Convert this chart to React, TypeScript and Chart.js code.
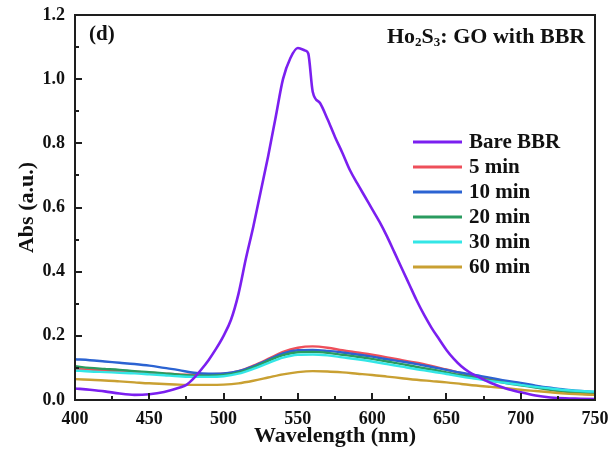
import React, { useEffect, useRef } from "react";
import { Chart, registerables } from "chart.js";

Chart.register(...registerables);

// Wavelength grid (nm) for the GO-treated samples
const wavelengths = [
  400, 410, 420, 430, 440, 450, 460, 470, 480, 490, 500, 510, 520, 530, 540, 550, 560, 570,
  580, 590, 600, 610, 620, 630, 640, 650, 660, 670, 680, 690, 700, 710, 720, 730, 740, 750,
];

const abs5min = [
  0.097, 0.095, 0.092, 0.09, 0.088, 0.085, 0.082, 0.08, 0.079, 0.08, 0.082, 0.09, 0.107, 0.128,
  0.15, 0.163, 0.167, 0.163, 0.155, 0.148, 0.141, 0.133, 0.124, 0.116, 0.106, 0.095, 0.084,
  0.074, 0.066, 0.058, 0.051, 0.043, 0.035, 0.027, 0.02, 0.016,
];
const abs10min = [
  0.127, 0.124, 0.12, 0.116, 0.112, 0.107, 0.1, 0.093, 0.085, 0.082, 0.083, 0.09, 0.105, 0.125,
  0.145, 0.155, 0.156, 0.153, 0.148, 0.142, 0.135, 0.127, 0.12, 0.112, 0.103, 0.094, 0.085,
  0.077, 0.069, 0.06, 0.053, 0.045, 0.038, 0.032, 0.028, 0.025,
];
const abs20min = [
  0.105, 0.1, 0.097, 0.094, 0.09, 0.087, 0.083, 0.079, 0.076, 0.076, 0.078, 0.086, 0.102, 0.122,
  0.14, 0.149, 0.15, 0.147, 0.141, 0.135, 0.128, 0.12, 0.112, 0.103, 0.095, 0.086, 0.077, 0.069,
  0.061, 0.053, 0.046, 0.039, 0.032, 0.026, 0.022, 0.019,
];
const abs30min = [
  0.092, 0.089, 0.087, 0.085, 0.083, 0.08, 0.077, 0.074, 0.072, 0.072, 0.074, 0.082, 0.097, 0.115,
  0.132, 0.141, 0.142, 0.139, 0.133, 0.127, 0.12, 0.112, 0.104, 0.096, 0.089, 0.081, 0.073,
  0.066, 0.059, 0.053, 0.047, 0.041, 0.036, 0.031, 0.028, 0.026,
];
const abs60min = [
  0.065, 0.063, 0.061, 0.058, 0.055, 0.052, 0.05, 0.048, 0.047, 0.047, 0.048, 0.052, 0.06, 0.07,
  0.08, 0.087, 0.09, 0.089, 0.086, 0.082, 0.078, 0.073, 0.068, 0.063, 0.059, 0.055, 0.05, 0.045,
  0.041, 0.037, 0.032, 0.028, 0.024, 0.02, 0.018, 0.016,
];

// Bare BBR spectrum, sampled more finely around the band
const bareWavelengths = [
  400, 410, 420, 430, 440, 450, 460, 470, 475, 480, 485, 490, 495, 500, 505, 510, 515, 520, 525,
  530, 535, 540, 545, 550, 555, 557, 560, 565, 570, 575, 580, 585, 590, 595, 600, 605, 610, 615,
  620, 625, 630, 635, 640, 645, 650, 655, 660, 665, 670, 680, 690, 700, 710, 720, 730, 740, 750,
];
const absBare = [
  0.036, 0.032, 0.027, 0.02, 0.016, 0.018, 0.025, 0.038, 0.047, 0.068, 0.095, 0.125, 0.16, 0.2,
  0.25, 0.33, 0.44, 0.54, 0.65, 0.76, 0.88, 1.0, 1.066, 1.097, 1.089, 1.08, 0.961, 0.925, 0.875,
  0.82, 0.77, 0.717, 0.675, 0.635, 0.595, 0.555, 0.51, 0.46, 0.41, 0.36, 0.31, 0.265, 0.225, 0.19,
  0.156, 0.128, 0.105, 0.088, 0.075, 0.053, 0.036, 0.024, 0.014, 0.008, 0.005, 0.004, 0.003,
];

const seriesLabels = ["Bare BBR", "5 min", "10 min", "20 min", "30 min", "60 min"];
const seriesColors = ["#7b1ff0", "#ee4f5a", "#2b63d2", "#2a9b5f", "#33e6e6", "#c9a032"];

const xMajorTicks = [400, 450, 500, 550, 600, 650, 700, 750];
const xMinorTicks = [425, 475, 525, 575, 625, 675, 725];
const yMajorTicks = [0, 0.2, 0.4, 0.6, 0.8, 1.0, 1.2];
const yMinorTicks = [0.1, 0.3, 0.5, 0.7, 0.9, 1.1];

const FONT = "'Liberation Serif', 'Times New Roman', serif";
const INK = "#111111";
const FRAME = "#1e1e1e";
const W = 611;
const H = 452;

const pts = (xs: number[], ys: number[]) => xs.map((x, i) => ({ x, y: ys[i] }));

// Panel tag, title and legend box
const notesPlugin = {
  id: "notes",
  afterDraw(chart: any) {
    const { ctx } = chart;
    ctx.save();
    ctx.fillStyle = INK;
    ctx.textBaseline = "middle";
    ctx.textAlign = "left";
    ctx.font = `bold 21px ${FONT}`;
    ctx.fillText("(d)", 89, 35);

    let tx = 387;
    const ty = 37;
    const big = `bold 22px ${FONT}`;
    const small = `bold 13px ${FONT}`;
    const parts: [string, boolean][] = [
      ["Ho", false],
      ["2", true],
      ["S", false],
      ["3", true],
      [": GO with BBR", false],
    ];
    for (const [t, sub] of parts) {
      ctx.font = sub ? small : big;
      ctx.fillText(t, tx, sub ? ty + 6 : ty);
      tx += ctx.measureText(t).width;
    }

    const ds = chart.data.datasets;
    ctx.font = `bold 21px ${FONT}`;
    ds.forEach((d: any, i: number) => {
      const ly = 142 + i * 25;
      ctx.fillStyle = d.borderColor;
      ctx.fillRect(413, ly - 1.5, 49, 3);
      ctx.fillStyle = INK;
      ctx.fillText(d.label, 469, ly + 1);
    });
    ctx.restore();
  },
};

// Closed frame with inward major/minor ticks, painted last
const framePlugin = {
  id: "frame",
  afterRender(chart: any) {
    const { ctx } = chart;
    const xs = chart.scales.x;
    const ys = chart.scales.y;
    const L = Math.round(xs.left);
    const R = Math.round(xs.right);
    const T = Math.round(ys.top);
    const B = Math.round(ys.bottom);
    ctx.save();
    ctx.globalAlpha = 1;
    ctx.globalCompositeOperation = "source-over";
    ctx.setLineDash([]);
    ctx.strokeStyle = FRAME;
    ctx.lineWidth = 2;
    ctx.beginPath();
    ctx.rect(L, T, R - L, B - T);
    ctx.stroke();
    ctx.beginPath();
    yMajorTicks.forEach((v) => {
      const py = Math.round(ys.getPixelForValue(v));
      ctx.moveTo(L, py);
      ctx.lineTo(L + 7, py);
    });
    yMinorTicks.forEach((v) => {
      const py = Math.round(ys.getPixelForValue(v));
      ctx.moveTo(L, py);
      ctx.lineTo(L + 4, py);
    });
    xMajorTicks.forEach((v) => {
      const px = Math.round(xs.getPixelForValue(v));
      ctx.moveTo(px, B);
      ctx.lineTo(px, B - 7);
    });
    xMinorTicks.forEach((v) => {
      const px = Math.round(xs.getPixelForValue(v));
      ctx.moveTo(px, B);
      ctx.lineTo(px, B - 4);
    });
    ctx.stroke();
    ctx.restore();
  },
};

export default function App() {
  const canvasRef = useRef<HTMLCanvasElement | null>(null);

  useEffect(() => {
    const canvas = canvasRef.current;
    if (!canvas) return;
    const dataSets = [
      pts(bareWavelengths, absBare),
      pts(wavelengths, abs5min),
      pts(wavelengths, abs10min),
      pts(wavelengths, abs20min),
      pts(wavelengths, abs30min),
      pts(wavelengths, abs60min),
    ];
    const chart = new Chart(canvas, {
      type: "line",
      data: {
        datasets: dataSets.map((d, i) => ({
          label: seriesLabels[i],
          data: d,
          borderColor: seriesColors[i],
          backgroundColor: seriesColors[i],
          borderWidth: i === 0 ? 2.6 : 2.4,
          pointRadius: 0,
          cubicInterpolationMode: "monotone" as const,
          fill: false,
          // bare BBR on top, the GO series stacked beneath it
          order: i === 0 ? 0 : 10 - i,
        })),
      },
      options: {
        responsive: false,
        animation: false,
        layout: { padding: { top: 15, right: 16, left: 0, bottom: 0 } },
        plugins: {
          legend: { display: false },
          tooltip: { enabled: false },
        },
        scales: {
          x: {
            type: "linear",
            min: 400,
            max: 750,
            afterFit: (s: any) => {
              s.height = 52;
              s.paddingLeft = 0;
              s.paddingRight = 0;
            },
            afterBuildTicks: (s: any) => {
              s.ticks = xMajorTicks.map((v) => ({ value: v }));
            },
            grid: { display: false, drawTicks: false },
            border: { display: true, color: FRAME, width: 2 },
            ticks: {
              color: INK,
              padding: 9,
              maxRotation: 0,
              autoSkip: false,
              font: { family: FONT, size: 18, weight: "bold" },
            },
            title: {
              display: true,
              text: "Wavelength (nm)",
              color: INK,
              padding: { top: 0, bottom: 2 },
              font: { family: FONT, size: 22, weight: "bold" },
            },
          },
          y: {
            type: "linear",
            min: 0,
            max: 1.2,
            afterFit: (s: any) => {
              s.width = 75;
              s.paddingTop = 0;
              s.paddingBottom = 0;
            },
            afterBuildTicks: (s: any) => {
              s.ticks = yMajorTicks.map((v) => ({ value: v }));
            },
            grid: { display: false, drawTicks: false },
            border: { display: true, color: FRAME, width: 2 },
            ticks: {
              color: INK,
              padding: 10,
              autoSkip: false,
              callback: (v: any) => Number(v).toFixed(1),
              font: { family: FONT, size: 18, weight: "bold" },
            },
            title: {
              display: true,
              text: "Abs (a.u.)",
              color: INK,
              padding: { top: 14, bottom: 0 },
              font: { family: FONT, size: 22, weight: "bold" },
            },
          },
        },
      },
      plugins: [notesPlugin, framePlugin],
    });
    return () => chart.destroy();
  }, []);

  return (
    <div style={{ position: "fixed", left: 0, top: 0, width: W, height: H, background: "#fff" }}>
      <canvas ref={canvasRef} width={W} height={H} />
    </div>
  );
}
